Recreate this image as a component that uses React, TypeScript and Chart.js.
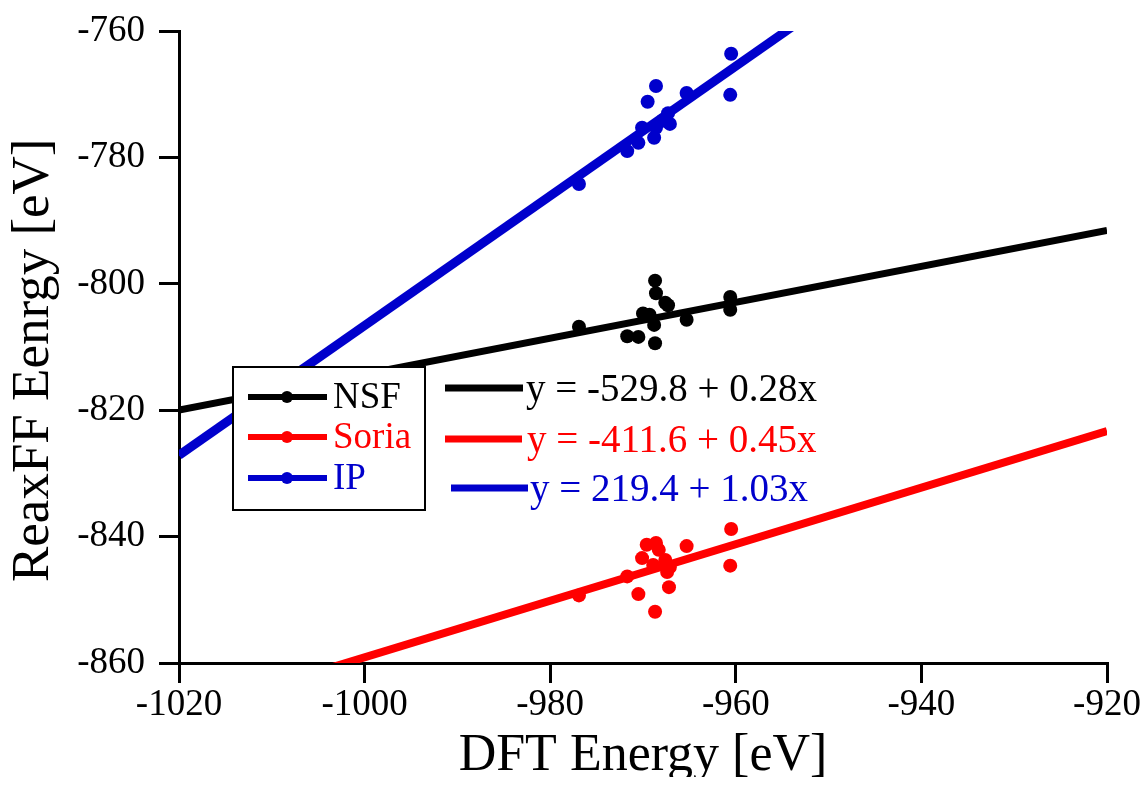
import React, { useEffect, useRef } from "react";
import { Chart, registerables } from "chart.js";

Chart.register(...registerables);

// Scatter data: DFT energy (x) vs ReaxFF energy (y), in eV
const nsfX = [-968.7, -968.6, -967.3, -967.6, -970.0, -969.3, -960.6, -960.6, -965.3, -968.8, -971.7, -970.5, -968.7, -976.9];
const nsfY = [-799.5, -801.5, -803.4, -803.0, -804.7, -804.9, -802.1, -804.1, -805.7, -806.5, -808.3, -808.4, -809.4, -806.8];

const soriaX = [-960.5, -960.6, -965.3, -969.6, -968.6, -968.3, -970.1, -967.6, -967.1, -967.4, -968.9, -971.7, -970.5, -967.2, -968.7, -976.9];
const soriaY = [-838.8, -844.6, -841.5, -841.3, -841.0, -842.1, -843.4, -843.7, -844.8, -845.6, -844.5, -846.3, -849.1, -848.0, -851.9, -849.3];

const ipX = [-960.5, -960.6, -968.6, -969.5, -965.3, -967.3, -967.9, -967.1, -970.1, -968.6, -968.8, -970.5, -971.7, -976.9];
const ipY = [-763.6, -770.1, -768.7, -771.2, -769.8, -773.0, -774.2, -774.7, -775.3, -775.3, -776.9, -777.7, -779.0, -784.2];

// Linear fits y = a + b x
const seriesNames = ["NSF", "Soria", "IP"];
const fitIntercepts = [-529.8, -411.6, 219.4];
const fitSlopes = [0.2845, 0.4475, 1.026];
const fitLabels = ["y = -529.8 + 0.28x", "y = -411.6 + 0.45x", "y = 219.4 + 1.03x"];

const xRange = [-1020, -920];
const yRange = [-860, -760];
const tickStep = 20;

const COLORS = ["#000000", "#ff0000", "#0000cc"];
const FONT = "'Liberation Serif', 'Times New Roman', serif";

const toPoints = (xs: number[], ys: number[]) => xs.map((x, i) => ({ x, y: ys[i] }));

const fitLine = (i: number) =>
  xRange.map((x) => ({ x, y: fitIntercepts[i] + fitSlopes[i] * x }));

// Draws the series key box and the fit equations
const keyPlugin = {
  id: "fitKey",
  afterDraw(chart: Chart) {
    const ctx = chart.ctx;
    ctx.save();
    // key box
    const bx = 225, by = 359, bw = 192, bh = 143;
    ctx.fillStyle = "#ffffff";
    ctx.fillRect(bx, by, bw, bh);
    ctx.strokeStyle = "#000";
    ctx.lineWidth = 2;
    ctx.strokeRect(bx, by, bw, bh);

    const rows = [389, 429, 470];
    ctx.font = `37px ${FONT}`;
    ctx.textBaseline = "middle";
    ctx.textAlign = "left";
    seriesNames.forEach((name, i) => {
      const y = rows[i];
      ctx.strokeStyle = COLORS[i];
      ctx.fillStyle = COLORS[i];
      ctx.lineWidth = 6;
      ctx.beginPath();
      ctx.moveTo(240, y);
      ctx.lineTo(319, y);
      ctx.stroke();
      ctx.beginPath();
      ctx.arc(279, y, 6, 0, Math.PI * 2);
      ctx.fill();
      ctx.fillText(name, 325, y + 1);
    });

    // fit equations
    const eqLines = [
      { x0: 437, x1: 515, y: 380, tx: 518 },
      { x0: 437, x1: 514, y: 431, tx: 519 },
      { x0: 443, x1: 520, y: 480, tx: 522 },
    ];
    fitLabels.forEach((label, i) => {
      const e = eqLines[i];
      ctx.strokeStyle = COLORS[i];
      ctx.fillStyle = COLORS[i];
      ctx.lineWidth = 7;
      ctx.beginPath();
      ctx.moveTo(e.x0, e.y);
      ctx.lineTo(e.x1, e.y);
      ctx.stroke();
      ctx.font = `39px ${FONT}`;
      ctx.fillText(label, e.tx, e.y + 3);
    });
    ctx.restore();
  },
};

const CANVAS_W = 1132;
const CANVAS_H = 777;

export default function App() {
  const canvasRef = useRef<HTMLCanvasElement | null>(null);

  useEffect(() => {
    if (!canvasRef.current) return;
    const scatterSets = [
      toPoints(nsfX, nsfY),
      toPoints(soriaX, soriaY),
      toPoints(ipX, ipY),
    ].map((data, i) => ({
      type: "scatter" as const,
      label: seriesNames[i],
      data,
      backgroundColor: COLORS[i],
      borderColor: COLORS[i],
      borderWidth: 0,
      pointRadius: 7,
      pointHoverRadius: 7,
    }));
    const lineWidths = [7, 8, 9];
    const lineSets = [0, 1, 2].map((i) => ({
      type: "line" as const,
      label: fitLabels[i],
      data: fitLine(i),
      borderColor: COLORS[i],
      backgroundColor: COLORS[i],
      borderWidth: lineWidths[i],
      pointRadius: 0,
      fill: false,
      clip: 0,
    }));

    const chart = new Chart(canvasRef.current, {
      type: "scatter",
      data: { datasets: [...scatterSets, ...lineSets] as any },
      options: {
        animation: false,
        responsive: false,
        devicePixelRatio: 1,
        layout: { padding: { left: 0, top: 23, right: 33, bottom: 0 } },
        plugins: {
          legend: { display: false },
          tooltip: { enabled: false },
        },
        scales: {
          x: {
            type: "linear",
            min: xRange[0],
            max: xRange[1],
            afterFit(scale: any) {
              scale.height = CANVAS_H - 655;
              scale.paddingLeft = 0;
              scale.paddingRight = 0;
            },
            ticks: {
              stepSize: tickStep,
              color: "#000",
              padding: 0,
              font: { family: FONT, size: 37 },
              maxRotation: 0,
              callback: (v: any) => String(v),
            },
            grid: {
              drawOnChartArea: false,
              drawTicks: true,
              tickLength: 20,
              tickWidth: 3,
              lineWidth: 3,
              color: "#000",
              tickColor: "#000",
            },
            border: { display: true, width: 3, color: "#000" },
            title: {
              display: true,
              text: "DFT Energy [eV]",
              color: "#000",
              font: { family: FONT, size: 52, lineHeight: 1.12 },
              padding: 0,
            },
          },
          y: {
            type: "linear",
            min: yRange[0],
            max: yRange[1],
            afterFit(scale: any) {
              scale.width = 171;
              scale.paddingTop = 0;
              scale.paddingBottom = 0;
            },
            ticks: {
              stepSize: tickStep,
              color: "#000",
              padding: 14,
              font: { family: FONT, size: 37 },
              callback: (v: any) => String(v),
            },
            grid: {
              drawOnChartArea: false,
              drawTicks: true,
              tickLength: 20,
              tickWidth: 3,
              lineWidth: 3,
              color: "#000",
              tickColor: "#000",
            },
            border: { display: true, width: 3, color: "#000" },
            title: {
              display: true,
              text: "ReaxFF Eenrgy [eV]\u2002",
              color: "#000",
              font: { family: FONT, size: 53, lineHeight: 1 },
              padding: 0,
            },
          },
        },
      },
      plugins: [keyPlugin],
    });
    return () => chart.destroy();
  }, []);

  return (
    <div style={{ width: CANVAS_W, height: CANVAS_H, marginBottom: -8 }}>
      <canvas ref={canvasRef} width={CANVAS_W} height={CANVAS_H} style={{ display: "block" }} />
    </div>
  );
}
